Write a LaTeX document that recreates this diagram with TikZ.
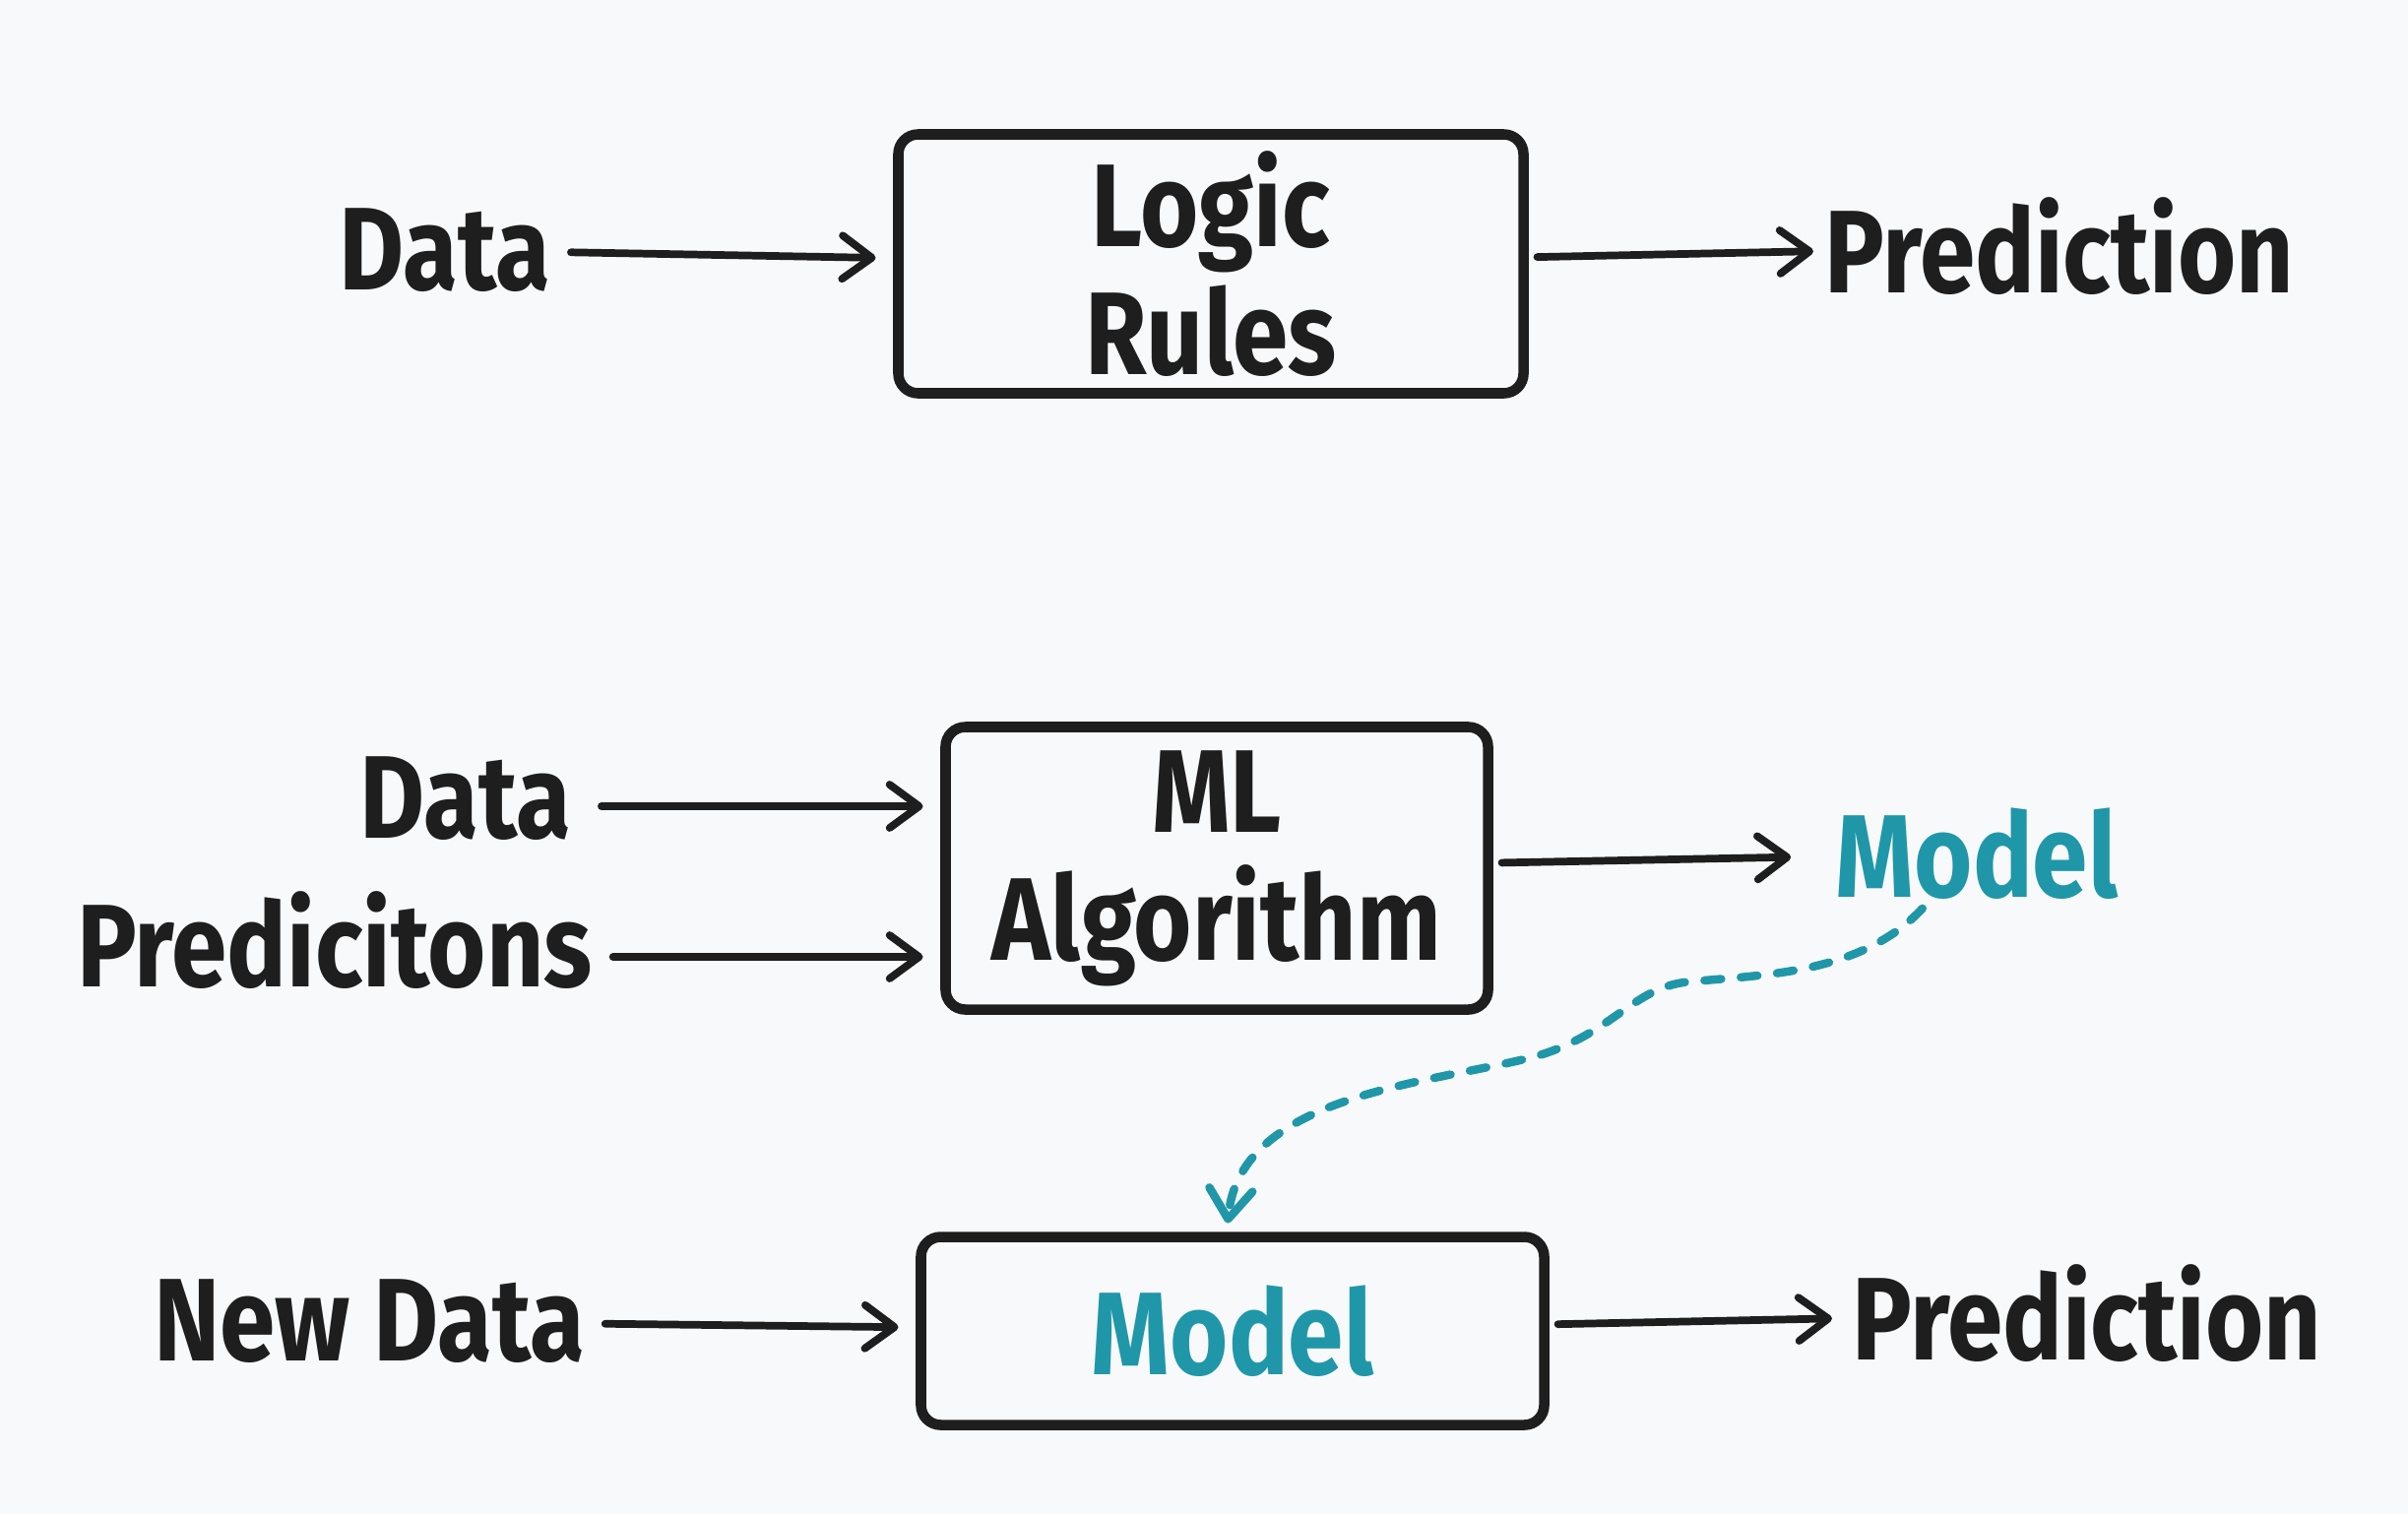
\documentclass[tikz,border=0pt]{standalone}
\usepackage{fontspec}
\setmainfont{Fira Sans}[FakeStretch=0.85]
\usetikzlibrary{arrows.meta}
\definecolor{bgcol}{HTML}{F8F9FA}
\definecolor{ink}{HTML}{1E1E1E}
\definecolor{teal}{HTML}{1F97A9}

\begin{document}
\begin{tikzpicture}[font=\fontsize{34}{37}\selectfont\bfseries]
\tikzstyle{word}=[inner sep=0pt,text=ink,align=center]
\tikzstyle{box}=[draw=ink,line width=3pt,rounded corners=0.2cm,inner sep=0pt,outer sep=0pt,align=center,text=ink]
\tikzstyle{edge}=[draw=ink,line width=2.2pt,line cap=round,-{Straight Barb[length=0.3cm,width=0.44cm,round]}]
\tikzstyle{dashedge}=[draw=teal,line width=2.4pt,line cap=round,dash pattern=on 0.17cm off 0.2cm,-{Straight Barb[length=0.3cm,width=0.44cm,round]}]

\fill[bgcol] (0,0) rectangle (24.46,-15.38);

% rule based
\node[word] (d1) at (4.52,-2.54) {Data};
\node[box,minimum width=6.35cm,minimum height=2.63cm] (logic) at (12.30,-2.68) {Logic\\Rules};
\node[word] (p1) at (20.92,-2.50) {Prediction};

\path (d1) edge[edge,shorten <=0.2cm,shorten >=0.23cm] (logic);
\path (logic) edge[edge,shorten <=0.14cm,shorten >=0.11cm] (p1);

% training
\node[word] (d2) at (4.73,-8.11) {Data};
\node[word] (pr) at (3.40,-9.55) {Predicitons};
\node[box,minimum width=5.51cm,minimum height=2.87cm] (ml) at (12.36,-8.82) {ML\\Algorithm};
\node[word,text=teal] (m2) at (20.08,-8.67) {Model};

\path ([yshift=-0.08cm]d2.east) edge[edge,shorten <=0.3cm,shorten >=0.23cm] ([yshift=-0.08cm]ml.west |- d2.east);
\path ([yshift=-0.17cm]pr.east) edge[edge,shorten <=0.2cm,shorten >=0.23cm] ([yshift=-0.17cm]ml.west |- pr.east);
\path (ml) edge[edge,shorten <=0.14cm,shorten >=0.45cm] (m2);

% inference
\node[word] (nd) at (3.75,-13.42) {New Data};
\node[box,minimum width=6.33cm,minimum height=1.91cm,text=teal] (mbox) at (12.52,-13.52) {Model};
\node[word] (p2) at (21.20,-13.34) {Prediction};

\path (nd) edge[edge,shorten <=0.2cm,shorten >=0.23cm] (mbox);
\path (mbox) edge[edge,shorten <=0.14cm,shorten >=0.2cm] (p2);

\draw[dashedge,shorten <=0.12cm] (m2.-135) .. controls (18.9,-9.9) and (17.9,-9.9) .. (17.2,-9.97)
  .. controls (16.6,-10.0) and (16.4,-10.5) .. (15.6,-10.73)
  .. controls (14.6,-11.0) and (12.6,-11.1) .. ([xshift=-0.05cm,yshift=0.14cm]mbox.north);

\end{tikzpicture}
\end{document}
